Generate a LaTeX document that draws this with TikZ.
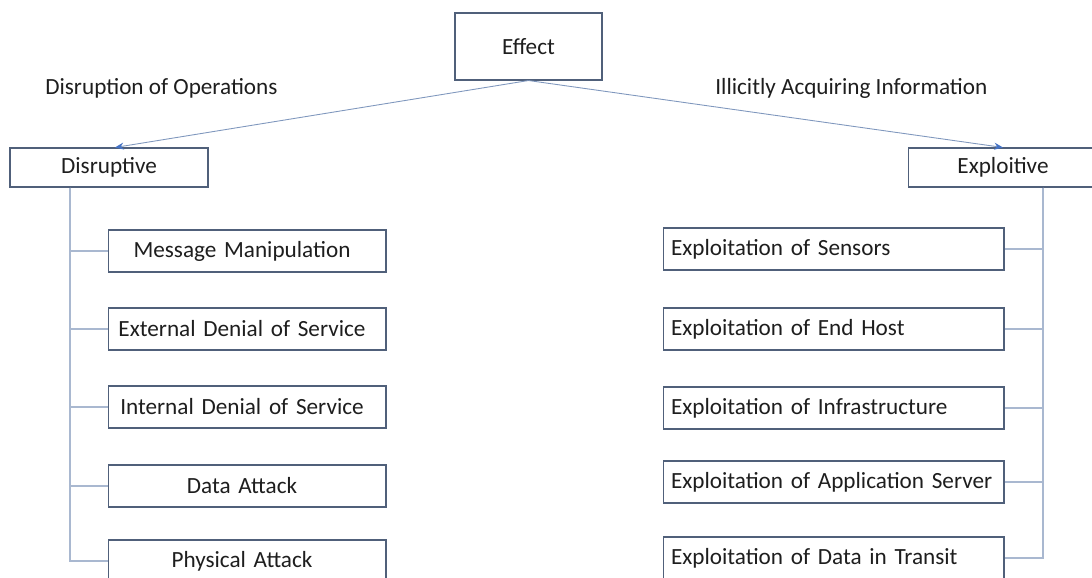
\documentclass[tikz,border=0pt]{standalone}
\usepackage{fontspec}
\setmainfont{Carlito}
\usetikzlibrary{arrows.meta}
\definecolor{boxline}{HTML}{50607A}
\definecolor{twigline}{HTML}{A9B8D0}
\definecolor{arrowline}{HTML}{7F97BD}
\definecolor{arrowtip}{HTML}{4472C4}
\definecolor{inktext}{HTML}{1E1E1E}
\begin{document}
\begin{tikzpicture}[x=0.02cm, y=-0.02cm,
		every node/.style={font=\fontsize{13.2}{16}\selectfont, text=inktext},
		box/.style={draw=boxline, line width=0.6pt, fill=white, inner sep=0pt},
		leftitem/.style={box, minimum width=5.56cm, minimum height=0.84cm, text width=5.24cm, align=center},
		rightitem/.style={box, minimum width=6.82cm, minimum height=0.84cm, text width=6.5cm, align=left},
		twig/.style={draw=twigline, line width=0.6pt},
		effectarrow/.style={draw=arrowline, line width=0.5pt, -{Stealth[length=5pt, width=4pt, color=arrowtip]}}]
		
		\useasboundingbox (0,0) rectangle (1092,578);
		\clip (0,0) rectangle (1092,578);
		
		% top of the tree
		\node[box, minimum width=2.94cm, minimum height=1.34cm] (effect) at (528.5,46.5) {Effect};
		\node[box, minimum width=3.96cm, minimum height=0.78cm] (disrupt) at (109,167.5) {Disruptive};
		\node[box, minimum width=3.8cm, minimum height=0.78cm] (exploit) at (1003,167.5) {Exploitive};
		\node[anchor=base west, inner sep=0pt] (disruptlabel) at (45,94) {Disruption of Operations};
		\node[anchor=base west, inner sep=0pt] (exploitlabel) at (715,94) {Illicitly Acquiring Information};
		
		\draw[effectarrow] (effect.south) -- ([xshift=0.12cm]disrupt.north);
		\draw[effectarrow] (effect.south) -- (exploit.north);
		
		% disruptive side
		\coordinate (ltrunk) at (70,0);
		\foreach \name/\ypos/\txt in {msg/251/Message Manipulation, extdos/329/External Denial of Service,
			intdos/407/Internal Denial of Service, data/486/Data Attack, phys/561/Physical Attack}
		{
			\node[leftitem] (\name) at (247,\ypos) {\hspace*{-0.2cm}\txt};
			\draw[twig] (ltrunk |- disrupt.south) |- (\name.west);
		}
		
		% exploitive side
		\coordinate (rtrunk) at (1043,0);
		\foreach \name/\ypos/\txt in {sens/249/Exploitation of Sensors, host/329/Exploitation of End Host,
			infra/408/Exploitation of Infrastructure, apps/482/Exploitation of Application Server,
			transit/558/Exploitation of Data in Transit}
		{
			\node[rightitem] (\name) at (833.5,\ypos) {\txt};
			\draw[twig] (rtrunk |- exploit.south) |- (\name.east);
		}
\end{tikzpicture}
\end{document}
